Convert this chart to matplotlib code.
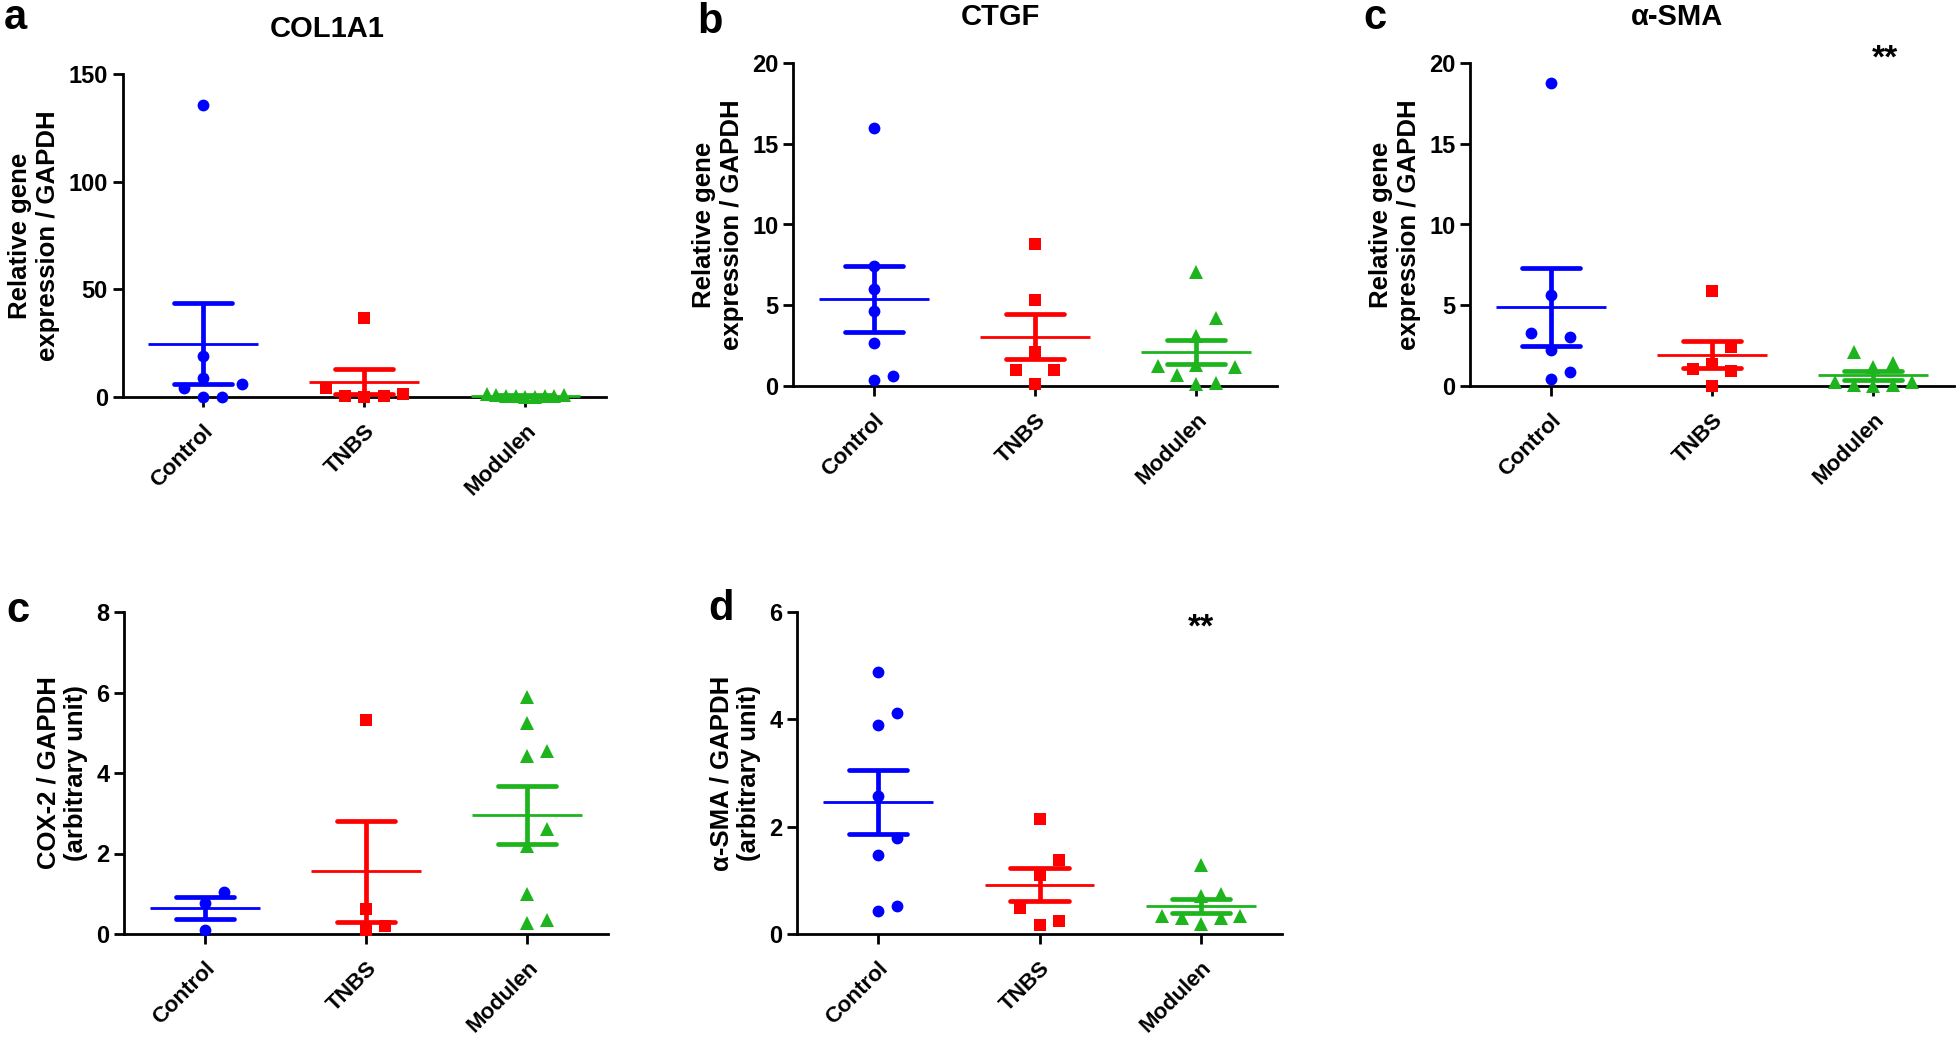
import numpy as np
import matplotlib
matplotlib.use('Agg')
import matplotlib.pyplot as plt
from matplotlib.transforms import ScaledTranslation

plt.rcParams['font.family'] = ['Liberation Sans', 'DejaVu Sans']
plt.rcParams['font.weight'] = 'bold'

W, H = 1960, 1040

groups = ['Control', 'TNBS', 'Modulen']
colors = ['#0000FF', '#FF0000', '#1EB41E']
markers = ['o', 's', '^']
msizes = [8.5, 8.5, 9.5]

# a: COL1A1 (relative gene expression / GAPDH)
col1a1_control = [135.6, 18.9, 8.8, 5.9, 4.2, 0.1, 0.1]
col1a1_tnbs = [36.7, 4.2, 1.5, 0.3, 0.3, 0.0]
col1a1_modulen = [0.6, 1.4, 0.2, 0.5, 0.1, 0.7, 0.3, 1.1, 0.4]

# b: CTGF
ctgf_control = [16.0, 7.41, 6.0, 4.64, 2.66, 0.35, 0.6]
ctgf_tnbs = [8.81, 5.35, 2.1, 1.01, 0.97, 0.1]
ctgf_modulen = [7.06, 4.21, 3.1, 1.3, 1.22, 1.18, 0.66, 0.19, 0.1]

# c: alpha-SMA (qPCR)
asma_control = [18.76, 5.63, 3.29, 3.04, 2.21, 0.87, 0.46]
asma_tnbs = [5.87, 2.4, 1.38, 1.07, 0.9, 0.0]
asma_modulen = [2.1, 1.4, 1.2, 0.25, 0.25, 0.08, 0.04, 0.0]

# c (bottom): COX-2 / GAPDH
cox2_control = [1.05, 0.78, 0.1]
cox2_tnbs = [5.32, 0.61, 0.21, 0.1]
cox2_modulen = [5.9, 5.24, 4.54, 4.43, 2.6, 2.19, 1.0, 0.36, 0.27]

# d: alpha-SMA / GAPDH (western blot)
wb_control = [4.88, 4.12, 3.9, 2.57, 1.78, 1.47, 0.52, 0.43]
wb_tnbs = [2.14, 1.38, 1.1, 0.48, 0.25, 0.17]
wb_modulen = [1.29, 0.75, 0.7, 0.34, 0.34, 0.29, 0.29, 0.19]

rel_label = 'Relative gene\nexpression / GAPDH'


def px_rect(left, top, right, bottom):
    return [left / W, 1 - bottom / H, (right - left) / W, (bottom - top) / H]


def slot(i):
    # 0, +1, -1, +2, -2, ...
    if i == 0:
        return 0
    return ((i + 1) // 2) * (1 if i % 2 else -1)


def swarm(values, px_per_unit, step=0.12, thresh=18.5, max_slot=2):
    # Prism-like scatter: spread points sideways when they sit too close
    order = np.argsort(values, kind='stable')
    placed = []
    slots = np.zeros(len(values))
    for idx in order:
        y = values[idx] * px_per_unit
        i = 0
        while any(s == slot(i) and abs(y - py) < thresh for s, py in placed):
            i += 1
        placed.append((slot(i), y))
        slots[idx] = slot(i)
    m = np.abs(slots).max()
    if m > max_slot:
        slots = slots * max_slot / m
    return slots * step


def panel(rect, data, ymax, yticks, ylabel):
    ax = fig.add_axes(px_rect(*rect))
    ax.set_xlim(-0.5, 2.5)
    ax.set_ylim(0, ymax)
    ppu = ax.get_position().height * H / ymax
    for i, vals in enumerate(data):
        vals = np.array(vals, dtype=float)
        offs = swarm(vals, ppu)
        ax.plot(i + offs, vals, ls='none', marker=markers[i], ms=msizes[i],
                color=colors[i], mew=0, clip_on=False, zorder=3)
        m = vals.mean()
        sem = vals.std(ddof=1) / np.sqrt(len(vals))
        ax.plot([i - 0.34, i + 0.34], [m, m], color=colors[i], lw=2,
                solid_capstyle='butt', zorder=4, clip_on=False)
        ax.plot([i, i], [m - sem, m + sem], color=colors[i], lw=3.4,
                solid_capstyle='butt', zorder=4, clip_on=False)
        for yy in (m - sem, m + sem):
            ax.plot([i - 0.18, i + 0.18], [yy, yy], color=colors[i], lw=3.4,
                    solid_capstyle='round', zorder=4, clip_on=False)
    for s in ('top', 'right'):
        ax.spines[s].set_visible(False)
    for s in ('left', 'bottom'):
        ax.spines[s].set_linewidth(2)
    ax.set_yticks(yticks)
    ax.set_xticks(range(3))
    ax.set_xticklabels(groups, rotation=45, ha='right', rotation_mode='anchor',
                       fontsize=16)
    shift = ScaledTranslation(7 / 100, 0, fig.dpi_scale_trans)
    for lab in ax.get_xticklabels():
        lab.set_transform(lab.get_transform() + shift)
    ax.tick_params(width=2, length=7)
    ax.tick_params(axis='y', labelsize=17)
    ax.tick_params(axis='x', pad=10)
    ax.set_ylabel(ylabel, fontsize=18.5, fontweight='bold', labelpad=6)
    return ax


fig = plt.figure(figsize=(W / 100, H / 100), dpi=100)

ax_a = panel((122.5, 74, 606, 397), [col1a1_control, col1a1_tnbs, col1a1_modulen],
             150, [0, 50, 100, 150], rel_label)
ax_b = panel((793, 63, 1277, 386), [ctgf_control, ctgf_tnbs, ctgf_modulen],
             20, [0, 5, 10, 15, 20], rel_label)
ax_c = panel((1470, 63, 1954, 386), [asma_control, asma_tnbs, asma_modulen],
             20, [0, 5, 10, 15, 20], rel_label)
ax_c2 = panel((124, 612, 608, 934), [cox2_control, cox2_tnbs, cox2_modulen],
              8, [0, 2, 4, 6, 8], 'COX-2 / GAPDH\n(arbitrary unit)')
ax_d = panel((797, 612, 1282, 934), [wb_control, wb_tnbs, wb_modulen],
             6, [0, 2, 4, 6], 'α-SMA / GAPDH\n(arbitrary unit)')

ax_c.text(2.07, 20.25, '**', fontsize=24, fontweight='bold', ha='center', va='center')
ax_d.text(2.0, 5.7, '**', fontsize=24, fontweight='bold', ha='center', va='center')

for x, y, s in [(327, 37, 'COL1A1'), (1000, 25, 'CTGF'), (1677, 25, 'α-SMA')]:
    fig.text(x / W, 1 - y / H, s, fontsize=21, fontweight='bold', ha='center', va='baseline')

for x, y, s in [(4, 29, 'a'), (697, 33, 'b'), (1363, 29, 'c'), (6, 622, 'c'), (708, 620, 'd')]:
    fig.text(x / W, 1 - y / H, s, fontsize=30, fontweight='bold', ha='left', va='baseline')

fig.savefig('out.png', dpi=100)
